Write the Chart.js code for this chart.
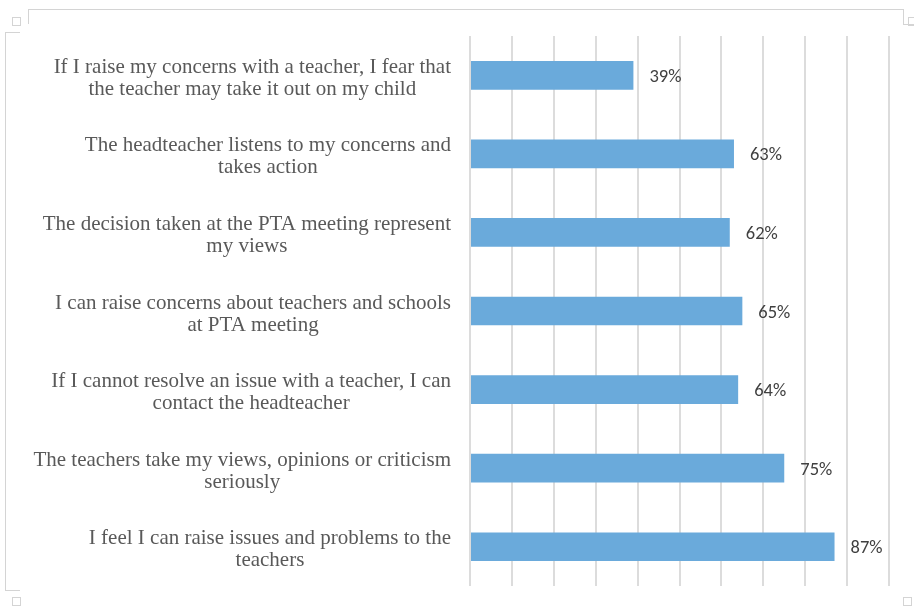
<!DOCTYPE html>
<html>
<head>
<meta charset="utf-8">
<script src="https://cdn.jsdelivr.net/npm/chart.js@4/dist/chart.umd.min.js"></script>
<style>
  html, body { margin: 0; padding: 0; background: #fff; }
  #marco { position: relative; width: 914px; height: 607px; overflow: hidden; }
  canvas { position: absolute; left: 0; top: 0; }
  .l { position: absolute; background: #d4d4d4; }
  .c { position: absolute; border: 1px solid #d4d4d4; width: 7px; height: 7px; }
</style>
</head>
<body>
<div id="marco">
  <!-- marco decorativo tipo Word -->
  <div class="l" style="left:28px;top:9px;width:875px;height:1px"></div>
  <div class="l" style="left:28px;top:9px;width:1px;height:15px"></div>
  <div class="l" style="left:903px;top:9px;width:1px;height:15px"></div>
  <div class="l" style="left:903px;top:24px;width:11px;height:1px"></div>
  <div class="l" style="left:5px;top:32px;width:1px;height:558px"></div>
  <div class="l" style="left:5px;top:32px;width:15px;height:1px"></div>
  <div class="l" style="left:5px;top:590px;width:15px;height:1px"></div>
  <div class="c" style="left:12px;top:17px"></div>
  <div class="c" style="left:908px;top:17px"></div>
  <div class="c" style="left:12px;top:597px"></div>
  <div class="c" style="left:903px;top:597px"></div>
  <canvas id="grafica" width="914" height="607"></canvas>
</div>
<script>
// Datos
var categorias = [
    ['If I raise my concerns with a teacher, I fear that', 'the teacher may take it out on my child'],
    ['The headteacher listens to my concerns and', 'takes action'],
    ['The decision taken at the PTA meeting represent', 'my views'],
    ['I can raise concerns about teachers and schools', 'at PTA meeting'],
    ['If I cannot resolve an issue with a teacher, I can', 'contact the headteacher'],
    ['The teachers take my views, opinions or criticism', 'seriously'],
    ['I feel I can raise issues and problems to the', 'teachers']
];
var porcentajes = [39, 63, 62, 65, 64, 75, 87];

var fuenteEtiquetas = '21px "Liberation Serif", "DejaVu Serif", serif';
var fuenteValores = '18.5px Carlito, Lato, "Liberation Sans", sans-serif';

// Dibuja las etiquetas del eje Y centradas en su propia linea mas ancha
var etiquetasCentradas = {
    id: 'etiquetasCentradas',
    afterDraw: function (chart) {
        var ctx = chart.ctx;
        var escala = chart.scales.y;
        var derecha = escala.right - 19;
        var altoLinea = 22;
        ctx.save();
        ctx.font = fuenteEtiquetas;
        ctx.fillStyle = '#595959';
        ctx.textAlign = 'center';
        ctx.textBaseline = 'middle';
        for (var i = 0; i < categorias.length; i++) {
            var lineas = categorias[i];
            var ancho = 0;
            for (var j = 0; j < lineas.length; j++) {
                ancho = Math.max(ancho, ctx.measureText(lineas[j]).width);
            }
            var centro = derecha - ancho / 2;
            var y = escala.getPixelForTick(i) + 3 - (lineas.length - 1) * altoLinea / 2;
            for (var j = 0; j < lineas.length; j++) {
                ctx.fillText(lineas[j], centro, y + j * altoLinea);
            }
        }
        ctx.restore();
    }
};

// Etiquetas de porcentaje al final de cada barra
var valoresBarras = {
    id: 'valoresBarras',
    afterDatasetsDraw: function (chart) {
        var ctx = chart.ctx;
        var meta = chart.getDatasetMeta(0);
        ctx.save();
        ctx.font = fuenteValores;
        ctx.fillStyle = '#404040';
        ctx.textAlign = 'left';
        ctx.textBaseline = 'middle';
        meta.data.forEach(function (barra, i) {
            ctx.fillText(porcentajes[i] + '%', barra.x + 16, barra.y + 2);
        });
        ctx.restore();
    }
};

var ctx = document.getElementById('grafica').getContext('2d');
var grafica = new Chart(ctx, {
    type: 'bar',
    data: {
        labels: categorias,
        datasets: [{
            data: porcentajes,
            backgroundColor: '#6aaadb',
            borderWidth: 0,
            barPercentage: 0.365,
            categoryPercentage: 1
        }]
    },
    options: {
        indexAxis: 'y',
        responsive: false,
        animation: false,
        layout: {
            padding: { top: 36, bottom: 21, right: 25, left: 0 }
        },
        plugins: {
            legend: { display: false },
            tooltip: { enabled: false }
        },
        scales: {
            x: {
                min: 0,
                max: 100,
                ticks: { display: false, stepSize: 10 },
                grid: { color: '#dcdcdc', lineWidth: 2, drawTicks: false },
                border: { display: false },
                afterFit: function (escala) { escala.height = 0; }
            },
            y: {
                // las etiquetas reales se dibujan en el plugin; aqui solo ocupan sitio
                ticks: { color: 'transparent', font: { size: 1, lineHeight: 1 } },
                grid: { display: false, drawTicks: false },
                border: { display: false },
                afterFit: function (escala) { escala.width = 470; }
            }
        }
    },
    plugins: [etiquetasCentradas, valoresBarras]
});
</script>
</body>
</html>
